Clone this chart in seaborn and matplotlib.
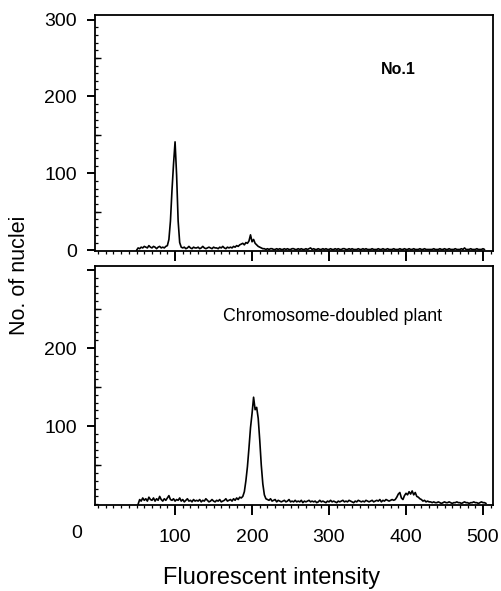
import numpy as np
import pandas as pd
import matplotlib
matplotlib.use("Agg")
import matplotlib.pyplot as plt
from matplotlib.ticker import MultipleLocator
import seaborn as sns

sns.set_style("ticks")
plt.rcParams['font.family'] = ['Liberation Sans', 'DejaVu Sans']
plt.rcParams['text.color'] = 'black'
plt.rcParams['axes.labelcolor'] = 'black'
plt.rcParams['xtick.color'] = 'black'
plt.rcParams['ytick.color'] = 'black'

# ---- data (histogram channels, step 2) ----
top_start = 50
top_counts = (
    [0, 3, 2, 4, 3, 5, 4, 3, 6, 4, 3, 5, 4, 2, 4, 5, 3, 4, 3, 5]            # 50-88
    + [6, 14, 38, 78, 112, 141, 98, 38, 10, 4]                              # 90-108
    + [3, 4, 2, 3, 5, 3, 2, 4, 3, 3,
       4, 2, 3, 5, 3, 2, 3, 4, 3, 2,
       4, 3, 3, 2, 4, 3, 5, 3, 2, 4,
       3, 4, 3, 5, 4, 6, 5, 7]                                              # 110-184
    + [8, 9, 7, 10, 9, 12, 20, 11, 14, 9, 7, 5, 4, 3, 2]                    # 186-214
    + [2, 1, 2, 1, 2, 2, 1, 1, 2, 1, 2, 1,
       1, 2, 1, 2, 1, 1, 2, 2, 1, 1, 2, 1,
       2, 1, 1, 2, 1, 2, 3, 1, 2, 1, 1, 2,
       1, 1, 2, 1, 2, 1, 1, 2, 1, 1, 2, 1,
       2, 1, 1, 2, 2, 1, 1, 2, 1, 2, 1, 1,
       1, 2, 1, 1, 2, 1, 2, 1, 1, 1, 2, 1,
       1, 1, 2, 1, 1, 2, 1, 1, 2, 1, 1, 1,
       2, 1, 1, 1, 2, 1, 1, 2, 1, 1, 2, 1,
       1, 2, 1, 1, 1, 2, 1, 1, 2, 1, 1, 1,
       1, 1, 2, 1, 1, 1, 2, 1, 1, 2, 1, 1,
       2, 1, 1, 1, 2, 1, 1, 1, 2, 1, 3, 1,
       1, 1, 2, 1, 1, 1, 2, 1, 1, 1, 2, 1]                                  # 216-502
)

bottom_start = 52
bottom_counts = (
    [0, 6, 4, 8, 5, 7, 4, 9, 6, 5,
     8, 4, 7, 5, 10, 6, 4, 7, 5, 8,
     11, 6, 5, 7, 4, 6, 5, 8, 4, 6,
     3, 5, 7, 4, 5, 3, 6, 4, 5, 4,
     6, 3, 5, 4, 7, 5, 3, 4, 6, 4,
     3, 5, 4, 6, 3, 4, 5, 7, 4, 5,
     6, 4, 7, 5, 8, 6, 9, 8]                                                # 52-186
    + [10, 16, 30, 48, 72, 98, 116, 137, 121, 124, 110, 82, 50, 26, 12, 7]  # 188-218
    + [6, 5, 7, 4, 5, 6, 3, 5, 4, 3,
       4, 5, 3, 4, 6, 3, 4, 3, 5, 3,
       4, 3, 5, 2, 4, 3, 4, 5, 3, 4,
       3, 4, 2, 3, 5, 3, 4, 3, 2, 4,
       3, 5, 3, 4, 3, 2, 4, 3, 4, 5,
       3, 4, 3, 5, 4, 3, 2, 4, 3, 5,
       4, 3, 4, 3, 5, 4, 3, 4, 5, 3,
       4, 5, 4, 6, 3, 5, 4, 6, 5, 4,
       5, 6, 5]                                                             # 220-384
    + [6, 9, 13, 15, 8, 6, 11, 14, 12, 16, 13, 17, 12, 15, 10, 9, 7, 6, 4, 5, 3, 4, 3]  # 386-430
    + [3, 2, 3, 2, 2, 3, 2, 1, 2, 3,
       2, 2, 3, 2, 1, 2, 2, 3, 2, 2,
       1, 2, 3, 2, 2, 1, 2, 2, 3, 2,
       2, 1, 2, 3, 2, 2, 1]                                                 # 432-504
)

x_ticks = [100, 200, 300, 400, 500]
top_yticks = [0, 100, 200, 300]
bottom_yticks = [100, 200, 300]
bottom_yticklabels = ["100", "200", ""]

top_df = pd.DataFrame({"intensity": top_start + 2 * np.arange(len(top_counts)),
                       "nuclei": top_counts})
bottom_df = pd.DataFrame({"intensity": bottom_start + 2 * np.arange(len(bottom_counts)),
                          "nuclei": bottom_counts})

W, H = 501, 591
fig = plt.figure(figsize=(W / 100, H / 100), dpi=100)
ax1 = fig.add_axes([95 / W, 1 - 251 / H, 398 / W, 236 / H])
ax2 = fig.add_axes([95 / W, 1 - 505 / H, 398 / W, 239 / H])

LS = 14
for ax, df, ylim in [(ax1, top_df, (-1, 306)), (ax2, bottom_df, (-1, 305))]:
    sns.lineplot(data=df, x="intensity", y="nuclei", ax=ax, color="black",
                 lw=1.2, estimator=None)
    ax.set_xlim(-4, 513)
    ax.set_ylim(*ylim)
    ax.set_xlabel("")
    ax.set_ylabel("")
    for s in ax.spines.values():
        s.set_visible(True)
        s.set_linewidth(1.3)
        s.set_color("black")
    ax.set_xticks(x_ticks)
    ax.xaxis.set_minor_locator(MultipleLocator(10))
    ax.yaxis.set_minor_locator(MultipleLocator(10))
    ax.tick_params(axis="x", which="major", direction="out", length=7, width=1.4,
                   pad=10, labelsize=LS, colors="black")
    ax.tick_params(axis="x", which="minor", direction="out", length=2.2, width=0.9)
    ax.tick_params(axis="y", which="major", direction="out", length=6, width=1.4,
                   pad=7, labelsize=LS, colors="black")
    ax.tick_params(axis="y", which="minor", direction="in", length=1.8, width=0.9)
    sec = ax.secondary_yaxis("left")
    sec.set_yticks([50, 150, 250])
    sec.set_yticklabels([])
    sec.tick_params(direction="in", length=4, width=1.0)
    sec.spines["left"].set_visible(False)

ax1.set_yticks(top_yticks)
ax1.set_xticklabels([])
ax2.set_yticks(bottom_yticks)
ax2.set_yticklabels(bottom_yticklabels)

# the "0" tick label on the intensity axis
ax2.text(-28, -0.118, "0", transform=ax2.get_xaxis_transform(), ha="center",
         va="center", fontsize=LS, clip_on=False)

ax1.text(390, 235, "No.1", fontsize=11.5, fontweight="bold", ha="center", va="center")
ax2.text(305, 240, "Chromosome-doubled plant", fontsize=12.8, ha="center", va="center")

fig.text(20 / W, 1 - 275 / H, "No. of nuclei", rotation=90, ha="center",
         va="center", fontsize=15.5)
fig.text(272 / W, 1 - 578 / H, "Fluorescent intensity", ha="center",
         va="center", fontsize=17)

fig.savefig("out.png", dpi=100)
